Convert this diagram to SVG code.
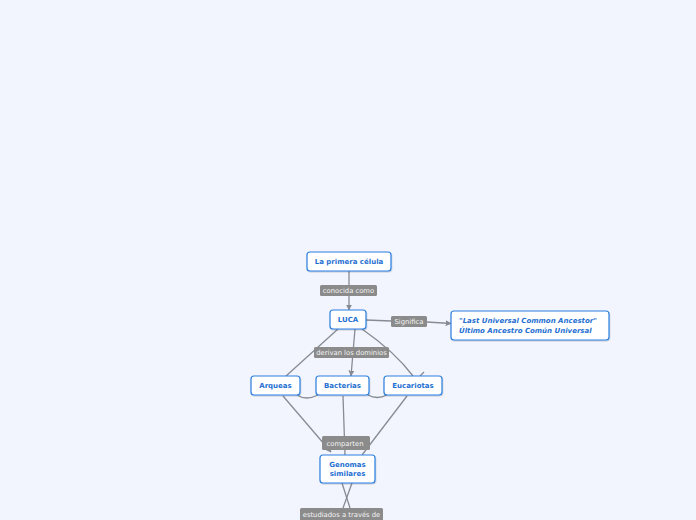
<svg xmlns="http://www.w3.org/2000/svg" width="696" height="520" viewBox="0 0 696 520">
<defs>
<marker id="arr" viewBox="0 0 10 10" refX="9" refY="5" markerWidth="6" markerHeight="6" orient="auto" markerUnits="userSpaceOnUse">
<path d="M0,0 L10,5 L0,10 z" fill="#858a93"/>
</marker>
<filter id="sh" x="-10%" y="-10%" width="130%" height="140%">
<feDropShadow dx="0.5" dy="1" stdDeviation="0.6" flood-color="#000" flood-opacity="0.18"/>
</filter>
</defs>
<style>
.node rect{fill:#fff;stroke:#2b7fe0;stroke-width:1.2;filter:url(#sh)}
.node text{font-family:"DejaVu Sans",Verdana,sans-serif;font-weight:bold;font-size:7px;fill:#1f70d2;text-anchor:middle}
.lbl rect{fill:#8b8b8b}
.lbl text{font-family:"DejaVu Sans",Verdana,sans-serif;font-size:6.8px;fill:#f4f4f4;text-anchor:middle}
.con path{fill:none;stroke:#868b94;stroke-width:1.3}
</style>
<rect width="696" height="520" fill="#f2f5fd"/>
<g id="connectors" class="con">
<path d="M349,271 V285"/>
<path d="M349,296 V310" marker-end="url(#arr)"/>
<path d="M366,320 L391,321"/>
<path d="M427,322 L451,323.5" marker-end="url(#arr)"/>
<path d="M338,329 L286,376"/>
<path d="M355,329 L351,376" marker-end="url(#arr)"/>
<path d="M362,329 Q395,352 413,376"/>
<path d="M420,376 L424,372"/>
<path d="M297,395 Q306,401 318,395"/>
<path d="M368,395 Q377,400 387,395"/>
<path d="M283,396 L331,452" marker-end="url(#arr)"/>
<path d="M343,396 L345,455"/>
<path d="M407,396 L362,455"/>
<path d="M342,483 L350,508"/>
<path d="M352,483 L343,508"/>
</g>
<g id="lbl-conocida" class="lbl"><rect x="320" y="285" width="57" height="11" rx="1.5"/><text x="348.5" y="293.2">conocida como</text></g>
<g id="lbl-significa" class="lbl"><rect x="391" y="316" width="36" height="11" rx="1.5"/><text x="409" y="324.2">Significa</text></g>
<g id="lbl-derivan" class="lbl"><rect x="314" y="347" width="75" height="11" rx="1.5"/><text x="351.5" y="355.2">derivan los dominios</text></g>
<g id="lbl-comparten" class="lbl"><rect x="322" y="436" width="48" height="14" rx="1.5"/><text x="345" y="445.5">comparten</text></g>
<g id="lbl-estudiados" class="lbl"><rect x="300" y="508" width="83" height="14" rx="1.5"/><text x="341.5" y="517">estudiados a través de</text></g>
<g id="n-primera" class="node"><rect x="307" y="252" width="84" height="19" rx="3"/><text x="349" y="264">La primera célula</text></g>
<g id="n-luca" class="node"><rect x="330" y="310" width="36" height="19" rx="3"/><text x="348" y="322">LUCA</text></g>
<g id="n-last" class="node"><rect x="451" y="311" width="158" height="29" rx="3"/><text x="459" y="323" style="text-anchor:start;font-style:italic">"Last Universal Common Ancestor"</text><text x="459" y="333" style="text-anchor:start;font-style:italic">Último Ancestro Común Universal</text></g>
<g id="n-arqueas" class="node"><rect x="251" y="376" width="49" height="19" rx="3"/><text x="275.5" y="388">Arqueas</text></g>
<g id="n-bacterias" class="node"><rect x="316" y="376" width="53" height="19" rx="3"/><text x="342.5" y="388">Bacterias</text></g>
<g id="n-eucariotas" class="node"><rect x="384" y="376" width="58" height="19" rx="3"/><text x="413" y="388">Eucariotas</text></g>
<g id="n-genomas" class="node"><rect x="320" y="455" width="55" height="28" rx="3"/><text x="347.5" y="467">Genomas</text><text x="347.5" y="476">similares</text></g>
</svg>
